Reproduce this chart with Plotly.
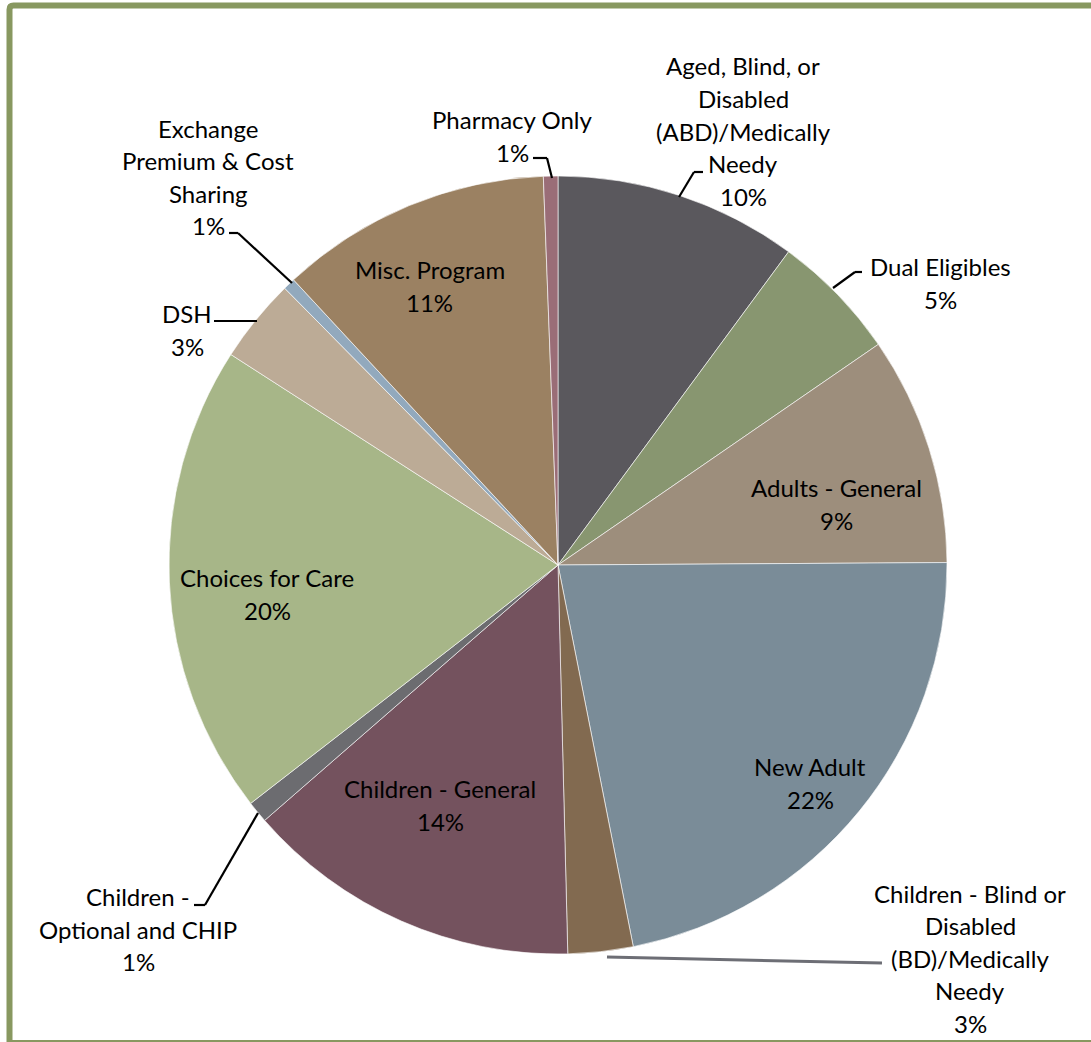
import plotly.graph_objects as go

W, H = 1091, 1042

categories = [
    "Aged, Blind, or Disabled (ABD)/Medically Needy",
    "Dual Eligibles",
    "Adults - General",
    "New Adult",
    "Children - Blind or Disabled (BD)/Medically Needy",
    "Children - General",
    "Children - Optional and CHIP",
    "Choices for Care",
    "DSH",
    "Exchange Premium & Cost Sharing",
    "Misc. Program",
    "Pharmacy Only",
]
values = [10.1, 5.3, 9.5, 22.0, 2.7, 14.0, 0.9, 19.6, 3.5, 0.5, 11.3, 0.6]
pct_labels = ["10%", "5%", "9%", "22%", "3%", "14%", "1%", "20%", "3%", "1%", "11%", "1%"]
label_lines = [
    ["Aged, Blind, or", "Disabled", "(ABD)/Medically", "Needy"],
    ["Dual Eligibles"],
    ["Adults - General"],
    ["New Adult"],
    ["Children - Blind or", "Disabled", "(BD)/Medically", "Needy"],
    ["Children - General"],
    ["Children -", "Optional and CHIP"],
    ["Choices for Care"],
    ["DSH"],
    ["Exchange", "Premium & Cost", "Sharing"],
    ["Misc. Program"],
    ["Pharmacy Only"],
]
colors = ["#5a585d", "#889670", "#9d8e7c", "#7a8c98", "#826a50", "#74525e",
          "#6c6c70", "#a7b688", "#bcab96", "#92a9bd", "#9b8162", "#9a6d77"]

# label block centres (pixels) and leader lines (pixel polylines)
label_pos = [(743, 131), (940, 283), (836, 504), (810, 783), (970, 958), (440, 805),
             (138, 929), (267, 594), (187, 330), (208, 177), (430, 286), (512, 136)]
leaders = [
    [(703, 172), (694, 172), (679, 197)],
    [(862, 272), (855, 272), (833, 288)],
    None, None,
    [(882, 963), (607, 957)],
    None,
    [(194, 905), (205, 905), (258, 813)],
    None,
    [(214, 321), (257, 321)],
    [(229, 233), (238, 233), (292, 283)],
    None,
    [(533, 158), (547, 158), (552, 178)],
]
leader_colors = ["black", "black", None, None, "#6d6e75", None, "black", None,
                 "black", "black", None, "black"]

def px(x):
    return x / W

def py(y):
    return 1 - y / H

cx, cy, r = 558, 565, 389

fig = go.Figure(go.Pie(
    labels=categories,
    values=values,
    sort=False,
    direction="clockwise",
    rotation=0,
    marker=dict(colors=colors, line=dict(color="rgba(255,255,255,0.6)", width=1)),
    textinfo="none",
    hoverinfo="label+percent",
    showlegend=False,
    domain=dict(x=[px(cx - r), px(cx + r)], y=[py(cy + r), py(cy - r)]),
))

LINE_H = 32.5
annotations = []
for lines, pct, (lx, ly) in zip(label_lines, pct_labels, label_pos):
    all_lines = lines + [pct]
    n = len(all_lines)
    for i, t in enumerate(all_lines):
        yy = ly + (i - (n - 1) / 2) * LINE_H
        annotations.append(dict(
            x=px(lx), y=py(yy), xref="paper", yref="paper", text=t,
            showarrow=False, xanchor="center", yanchor="middle",
            font=dict(family="Lato, Carlito, sans-serif", size=24, color="black"),
        ))

shapes = []
for pts, col in zip(leaders, leader_colors):
    if not pts:
        continue
    for (x0, y0), (x1, y1) in zip(pts[:-1], pts[1:]):
        shapes.append(dict(type="line", xref="paper", yref="paper",
                           x0=px(x0), y0=py(y0), x1=px(x1), y1=py(y1),
                           line=dict(color=col, width=2.2 if col == "black" else 3)))

# green frame (slightly rounded top-left corner)
fx, fy, fb, fr, rad = 9.5, 5.5, 1043, 1100, 4
frame_path = (f"M {px(fx)},{py(fb)} L {px(fx)},{py(fy + rad)} "
              f"Q {px(fx)},{py(fy)} {px(fx + rad)},{py(fy)} L {px(fr)},{py(fy)} "
              f"L {px(fr)},{py(fb)} Z")
shapes.append(dict(type="path", xref="paper", yref="paper", path=frame_path,
                   line=dict(color="#889860", width=6), fillcolor="rgba(0,0,0,0)",
                   layer="below"))

fig.update_layout(
    width=W, height=H,
    margin=dict(l=0, r=0, t=0, b=0),
    paper_bgcolor="white", plot_bgcolor="white",
    annotations=annotations, shapes=shapes,
)

fig.write_html("out.html", config={"displayModeBar": False},
               post_script="document.body.style.margin='0px';")
